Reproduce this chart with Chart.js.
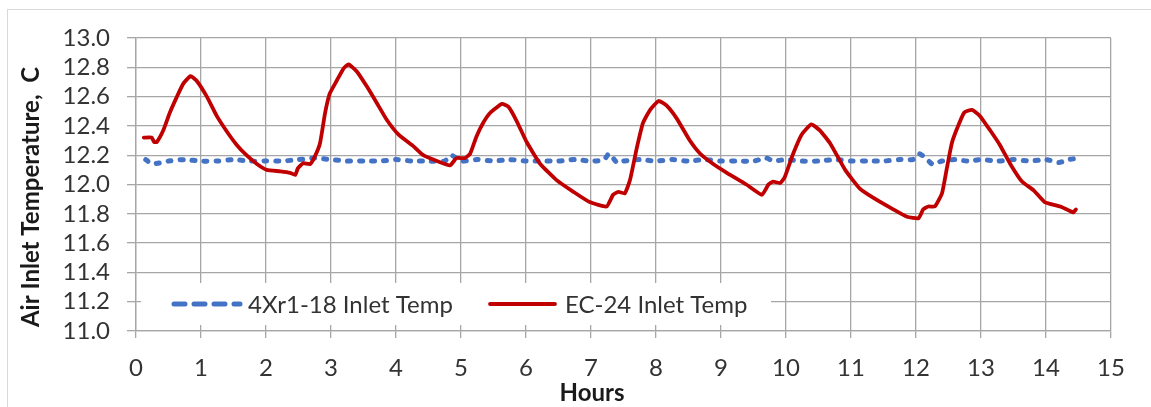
<!DOCTYPE html>
<html>
<head>
<meta charset="utf-8">
<title>Air Inlet Temperature</title>
<script src="https://cdn.jsdelivr.net/npm/chart.js@4/dist/chart.umd.min.js"></script>
<style>
  html, body { margin: 0; padding: 0; background: #fff; }
</style>
</head>
<body>
<canvas id="tempChart" width="1151" height="407"></canvas>
<script>
// 4Xr1-18 inlet temperature (hours, deg C)
var hours4x = [0.15, 0.25, 0.5, 0.75, 1.0, 1.25, 1.5, 1.75, 2.0, 2.25, 2.5, 2.75,
  3.0, 3.25, 3.5, 3.75, 4.0, 4.25, 4.5, 4.75, 4.85, 5.0, 5.25, 5.5, 5.75, 6.0,
  6.25, 6.5, 6.75, 7.0, 7.2, 7.28, 7.4, 7.5, 7.75, 8.0, 8.25, 8.5, 8.75, 9.0,
  9.25, 9.5, 9.7, 9.8, 10.0, 10.25, 10.5, 10.75, 11.0, 11.25, 11.5, 11.75,
  11.95, 12.05, 12.15, 12.25, 12.4, 12.6, 12.8, 13.0, 13.25, 13.5, 13.75,
  14.0, 14.2, 14.35, 14.5];
var temp4x = [12.17, 12.14, 12.16, 12.17, 12.16, 12.16, 12.17, 12.16, 12.16, 12.16, 12.17, 12.18,
  12.17, 12.16, 12.16, 12.16, 12.17, 12.16, 12.16, 12.16, 12.20, 12.16, 12.17, 12.16, 12.17, 12.16,
  12.16, 12.16, 12.17, 12.16, 12.17, 12.21, 12.15, 12.16, 12.17, 12.16, 12.17, 12.16, 12.17, 12.16,
  12.16, 12.16, 12.18, 12.16, 12.17, 12.16, 12.16, 12.17, 12.16, 12.16, 12.16, 12.17,
  12.17, 12.21, 12.18, 12.14, 12.16, 12.17, 12.16, 12.17, 12.16, 12.17, 12.16,
  12.17, 12.15, 12.17, 12.18];

// EC-24 inlet temperature (hours, deg C)
var hoursEC = [0.12, 0.24, 0.28, 0.32, 0.42, 0.52, 0.63, 0.73, 0.84, 0.93, 1.09, 1.24,
  1.40, 1.55, 1.70, 1.86, 2.01, 2.22, 2.37, 2.45, 2.49, 2.57, 2.68, 2.75, 2.83,
  2.91, 2.98, 3.09, 3.19, 3.27, 3.40, 3.55, 3.70, 3.86, 4.04, 4.27, 4.42, 4.63,
  4.83, 4.93, 5.06, 5.14, 5.24, 5.34, 5.45, 5.63, 5.73, 5.86, 6.01, 6.22, 6.47,
  6.73, 6.98, 7.24, 7.34, 7.42, 7.52, 7.60, 7.70, 7.80, 7.91, 8.04, 8.16, 8.32,
  8.52, 8.68, 8.88, 9.09, 9.39, 9.63, 9.73, 9.80, 9.91, 9.98, 10.11, 10.24,
  10.39, 10.52, 10.68, 10.91, 11.14, 11.34, 11.65, 11.86, 12.04, 12.11, 12.19,
  12.29, 12.40, 12.47, 12.55, 12.63, 12.74, 12.86, 12.98, 13.14, 13.29, 13.45,
  13.63, 13.81, 13.98, 14.22, 14.42, 14.46];
var tempEC = [12.32, 12.32, 12.29, 12.29, 12.37, 12.49, 12.60, 12.69, 12.74, 12.71, 12.60, 12.47,
  12.36, 12.27, 12.20, 12.14, 12.10, 12.09, 12.08, 12.065, 12.11, 12.145, 12.14, 12.19, 12.28,
  12.49, 12.62, 12.71, 12.79, 12.82, 12.77, 12.67, 12.56, 12.44, 12.34, 12.26, 12.20, 12.16,
  12.13, 12.18, 12.18, 12.21, 12.33, 12.42, 12.49, 12.55, 12.53, 12.43, 12.29, 12.14, 12.03,
  11.95, 11.88, 11.85, 11.93, 11.95, 11.94, 12.03, 12.24, 12.42, 12.51, 12.57, 12.54, 12.45,
  12.30, 12.21, 12.14, 12.08, 12.00, 11.93, 12.00, 12.02, 12.01, 12.05, 12.21, 12.34,
  12.41, 12.37, 12.28, 12.10, 11.97, 11.91, 11.83, 11.78, 11.77, 11.83, 11.85,
  11.85, 11.94, 12.10, 12.28, 12.38, 12.49, 12.51, 12.47, 12.37, 12.27, 12.14,
  12.02, 11.96, 11.88, 11.85, 11.81, 11.83];

var seriesNames = ['4Xr1-18 Inlet Temp', 'EC-24 Inlet Temp'];
var xTitle = 'Hours';
var yTitle = 'Air Inlet Temperature,  C';

function toPoints(xs, ys) {
  return xs.map(function (x, i) { return { x: x, y: ys[i] }; });
}

var FONT = 'Lato, "Open Sans", sans-serif';
var TEXT = '#333333';
var GRID = '#a6a6a6';

// white page, light outer frame
var framePlugin = {
  id: 'frame',
  beforeDraw: function (chart) {
    var c = chart.ctx;
    c.save();
    c.fillStyle = '#fff';
    c.fillRect(0, 0, chart.width, chart.height);
    c.strokeStyle = '#d9d9d9';
    c.lineWidth = 1;
    c.strokeRect(7.5, 9.5, chart.width + 20, chart.height + 20);
    c.restore();
  }
};

// legend sits inside the plot, bottom left, on a white box
var legendPlugin = {
  id: 'insideLegend',
  beforeDatasetsDraw: function (chart) {
    var c = chart.ctx;
    var ds = chart.data.datasets;
    c.save();
    c.fillStyle = '#fff';
    c.fillRect(141, 283, 630, 42);
    c.font = '24px ' + FONT;
    c.fillStyle = TEXT;
    c.textBaseline = 'middle';
    c.lineCap = 'round';

    c.strokeStyle = ds[0].borderColor;
    c.lineWidth = ds[0].borderWidth;
    c.setLineDash([11, 9]);
    c.beginPath();
    c.moveTo(174, 304);
    c.lineTo(240, 304);
    c.stroke();
    c.setLineDash([]);
    c.fillText(ds[0].label, 248, 305);

    c.strokeStyle = ds[1].borderColor;
    c.lineWidth = ds[1].borderWidth;
    c.beginPath();
    c.moveTo(490, 304);
    c.lineTo(555, 304);
    c.stroke();
    c.fillText(ds[1].label, 565, 305);
    c.restore();
  }
};

var titlePlugin = {
  id: 'axisTitles',
  afterDraw: function (chart) {
    var c = chart.ctx;
    c.save();
    c.font = 'bold 24px ' + FONT;
    c.fillStyle = '#1a1a1a';
    c.textAlign = 'center';
    c.textBaseline = 'middle';
    c.fillText(xTitle, 592, 393);
    c.translate(31, 197);
    c.rotate(-Math.PI / 2);
    c.fillText(yTitle, 0, 0);
    c.restore();
  }
};

var ctx = document.getElementById('tempChart');
var tempChart = new Chart(ctx, {
  type: 'line',
  data: {
    datasets: [{
      label: seriesNames[0],
      data: toPoints(hours4x, temp4x),
      borderColor: '#4472c4',
      borderWidth: 5,
      borderDash: [3, 9],
      borderCapStyle: 'round',
      borderJoinStyle: 'round',
      pointRadius: 0,
      tension: 0.2,
      order: 2
    }, {
      label: seriesNames[1],
      data: toPoints(hoursEC, tempEC),
      borderColor: '#c00000',
      borderWidth: 3.8,
      borderCapStyle: 'round',
      borderJoinStyle: 'round',
      pointRadius: 0,
      tension: 0.15,
      order: 1
    }]
  },
  options: {
    responsive: false,
    animation: false,
    layout: { padding: { top: 38, right: 40, left: 0, bottom: 0 } },
    plugins: {
      legend: { display: false },
      tooltip: { enabled: false }
    },
    scales: {
      x: {
        type: 'linear',
        min: 0,
        max: 15,
        ticks: { stepSize: 1, autoSkip: false, maxRotation: 0, padding: 16, color: TEXT, font: { family: FONT, size: 24 } },
        grid: { color: GRID, lineWidth: 1.3, tickLength: 7 },
        border: { color: GRID, width: 1.3 },
        afterFit: function (s) { s.height = 76; }
      },
      y: {
        min: 11,
        max: 13,
        ticks: {
          stepSize: 0.2,
          autoSkip: false,
          padding: 17,
          color: TEXT,
          font: { family: FONT, size: 24 },
          callback: function (v) { return v.toFixed(1); }
        },
        grid: { color: GRID, lineWidth: 1.3, tickLength: 9 },
        border: { color: GRID, width: 1.3 },
        afterFit: function (s) { s.width = 136; }
      }
    }
  },
  plugins: [framePlugin, legendPlugin, titlePlugin]
});
</script>
</body>
</html>
